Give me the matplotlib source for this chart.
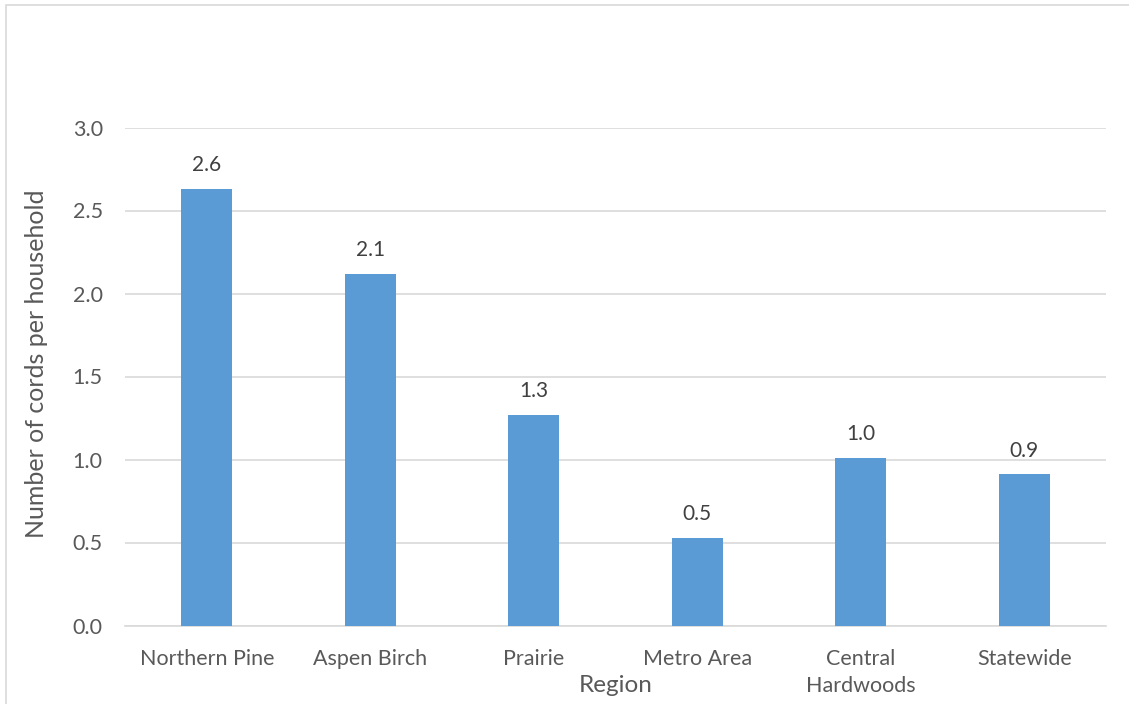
import matplotlib.pyplot as plt
import numpy as np
from matplotlib.patches import Rectangle

regions = ["Northern Pine", "Aspen Birch", "Prairie", "Metro Area",
           "Central\nHardwoods", "Statewide"]
cords = [2.63, 2.12, 1.27, 0.53, 1.01, 0.91]

plt.rcParams["font.family"] = ["Lato", "DejaVu Sans"]
W, H = 1129, 704
fig = plt.figure(figsize=(W / 100, H / 100), dpi=100)
ax = fig.add_axes([125 / W, 1 - 625.5 / H, (1106 - 125) / W, (625.5 - 127.5) / H])

x = np.arange(len(regions))
ax.bar(x, cords, 0.31, color="#5B9BD5", zorder=3)
for xi, v in zip(x, cords):
    ax.annotate(f"{v:.1f}", (xi, v), xytext=(0, 10), textcoords="offset points",
                ha="center", va="bottom", fontsize=15, color="#404040")

ax.set_xlim(-0.5, len(regions) - 0.5)
ax.set_ylim(0, 3.0)
ax.set_yticks(np.arange(0, 3.01, 0.5))
ax.set_yticklabels([f"{t:.1f}" for t in np.arange(0, 3.01, 0.5)])
ax.set_xticks(x)
ax.set_xticklabels(regions, linespacing=1.45, va="top")
ax.tick_params(length=0, labelsize=15.5, labelcolor="#595959")
ax.tick_params(axis="y", pad=16)
ax.tick_params(axis="x", pad=17)
ax.grid(True, axis="y", color="#D9D9D9", linewidth=1.2, zorder=0)
for s in ["top", "right", "left"]:
    ax.spines[s].set_visible(False)
ax.spines["bottom"].set_color("#D9D9D9")
ax.spines["bottom"].set_linewidth(1.2)

ax.set_xlabel("Region", fontsize=17.5, color="#595959")
ax.set_ylabel("Number of cords per household", fontsize=18, color="#595959")
ax.xaxis.set_label_coords(0.5, (625.5 - 686) / 498)
ax.xaxis.label.set_va("center")
ax.yaxis.set_label_coords((37 - 125) / 981, (625.5 - 364) / 498)
ax.yaxis.label.set_va("center")

fig.patches.append(Rectangle((6 / W, -0.1), 1.2, 1 - 5 / H + 0.1, transform=fig.transFigure,
                             fill=False, edgecolor="#D9D9D9", linewidth=1.2))

fig.savefig("out.png", dpi=100)
